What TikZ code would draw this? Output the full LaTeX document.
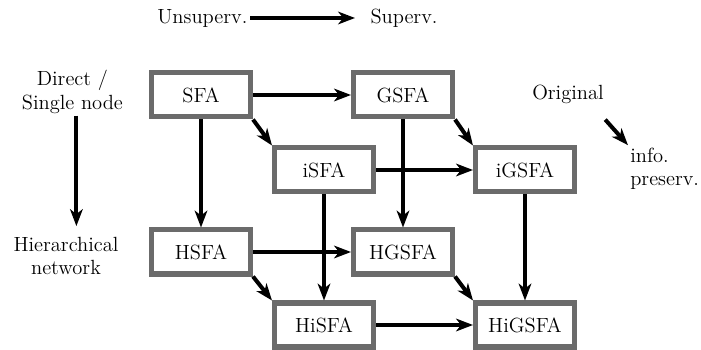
\documentclass[tikz,border=0pt]{standalone}
\usepackage{tikz}
\usetikzlibrary{shapes.geometric, arrows, arrows.meta}
\definecolor{boxgray}{gray}{0.42}
\tikzstyle{block} = [draw=boxgray, line width=3.56pt, fill=white, minimum width=2.475cm, minimum height=1.1cm, inner sep=0pt]
\tikzstyle{arrow} = [line width=2.85pt,->,>={Stealth[length=12pt,width=9pt,inset=3.5pt]}]
\tikzstyle{note} = [inner sep=0pt]

\begin{document}
\begin{tikzpicture}[every node/.style={font=\fontsize{14.6}{16.5}\selectfont}]
	\useasboundingbox (0,0) rectangle (17.525,8.75);
	% axes
	\node[note] (unsup) at (5.06,8.3) {Unsuperv.};
	\node[note] (sup) at (10.1,8.3) {Superv.};
	\node[note, align=center] (direct) at (1.81,6.45) {Direct /\\Single node};
	\node[note, align=center] (hier) at (1.65,2.35) {Hierarchical\\network};
	\node[note] (orig) at (14.2,6.4) {Original};
	\node[note, align=left, anchor=north west] (info) at (15.75,5.05) {info.\\preserv.};
	\draw[arrow] ([xshift=2pt]unsup.east) -- ([xshift=-0.38cm]sup.west);
	\draw[arrow] ([xshift=0.1cm,yshift=-0.05cm]direct.south) -- ([xshift=0.1cm,yshift=0.27cm]direct.south |- hier.north);
	\draw[arrow] ([xshift=0.03cm,yshift=-0.4cm]orig.south east) -- ([xshift=-0.05cm,yshift=0.07cm]info.north west);

	% methods
	\node[block] (sfa) at (5.025,6.375) {SFA};
	\node[block] (gsfa) at (10.075,6.375) {GSFA};
	\node[block] (isfa) at (8.1,4.5) {iSFA};
	\node[block] (igsfa) at (13.125,4.5) {iGSFA};
	\node[block] (hsfa) at (5.025,2.45) {HSFA};
	\node[block] (hgsfa) at (10.075,2.45) {HGSFA};
	\node[block] (hisfa) at (8.1,0.625) {HiSFA};
	\node[block] (higsfa) at (13.125,0.625) {HiGSFA};

	\draw[arrow] (sfa) -- (gsfa);
	\draw[arrow] (isfa) -- (igsfa);
	\draw[arrow] (hsfa) -- (hgsfa);
	\draw[arrow] (hisfa) -- (higsfa);
	\draw[arrow] (sfa) -- (hsfa);
	\draw[arrow] (gsfa) -- (hgsfa);
	\draw[arrow] (isfa) -- (hisfa);
	\draw[arrow] (igsfa) -- (higsfa);
	\draw[arrow] (sfa.south east) -- (isfa.north west);
	\draw[arrow] (gsfa.south east) -- (igsfa.north west);
	\draw[arrow] (hsfa.south east) -- (hisfa.north west);
	\draw[arrow] (hgsfa.south east) -- (higsfa.north west);
\end{tikzpicture}
\end{document}
